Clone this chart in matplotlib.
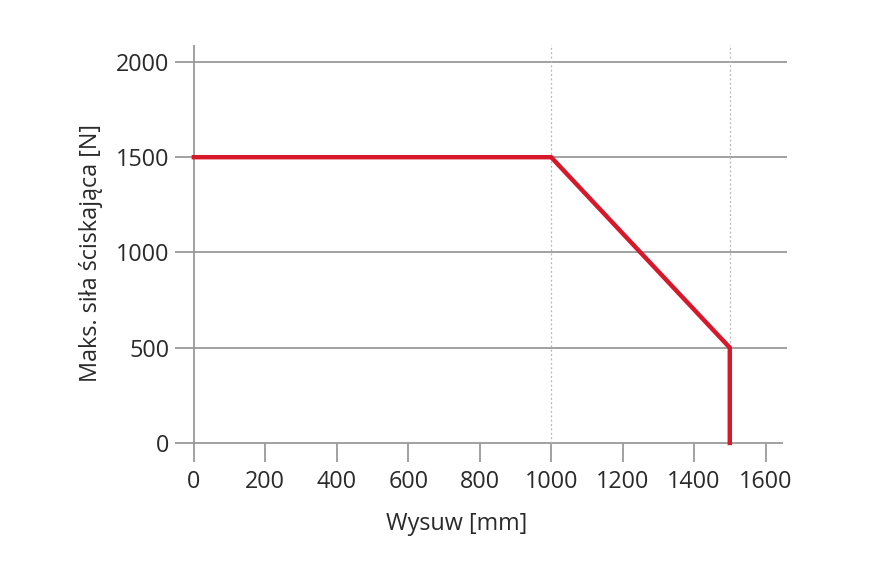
import matplotlib.pyplot as plt

plt.rcParams['font.family'] = ['Open Sans', 'DejaVu Sans']

# data: stroke vs max compressive force
stroke = [0, 1000, 1500, 1500]
force = [1500, 1500, 500, 0]

x_ticks = [0, 200, 400, 600, 800, 1000, 1200, 1400, 1600]
y_ticks = [0, 500, 1000, 1500, 2000]
dotted_x = [1000, 1500]

fig = plt.figure(figsize=(8.85, 5.75), dpi=100)
ax = fig.add_axes([0.1977, 0.1965, 0.6915, 0.7256])
ax.set_xlim(-53, 1660)
ax.set_ylim(-100, 2090)

grid_col = '#9a9a9a'
# horizontal grid lines (also serve as y tick marks)
ax.hlines(y_ticks[1:], -53, 1660, color=grid_col, lw=1.3, zorder=1)
ax.hlines(0, -53, 1648, color=grid_col, lw=1.3, zorder=1)
# left spine, running down past zero like a tick
ax.vlines(0, -100, 2090, color=grid_col, lw=1.3, zorder=1)
# x tick marks
ax.vlines(x_ticks[1:], -100, 0, color=grid_col, lw=1.3, zorder=1)
# dotted reference lines
ax.vlines(dotted_x, 0, 2100, color='#b5b5b5', lw=0.9, ls=(0, (1.5, 2)), zorder=1)

ax.plot(stroke, force, color='#d7182a', lw=3.2, solid_joinstyle='miter', zorder=3)

for s in ax.spines.values():
    s.set_visible(False)
ax.set_xticks(x_ticks)
ax.set_yticks(y_ticks)
ax.tick_params(axis='both', length=0, labelsize=16.8, colors='#2a2a2a')
ax.tick_params(axis='x', pad=6)
ax.tick_params(axis='y', pad=4)

ax.set_xlabel('Wysuw [mm]', fontsize=16.8, color='#2a2a2a')
ax.xaxis.set_label_coords(0.461, -0.12)
ax.set_ylabel('Maks. siła ściskająca [N]', fontsize=16.8, color='#2a2a2a', labelpad=9)

fig.savefig('out.png', dpi=100)
